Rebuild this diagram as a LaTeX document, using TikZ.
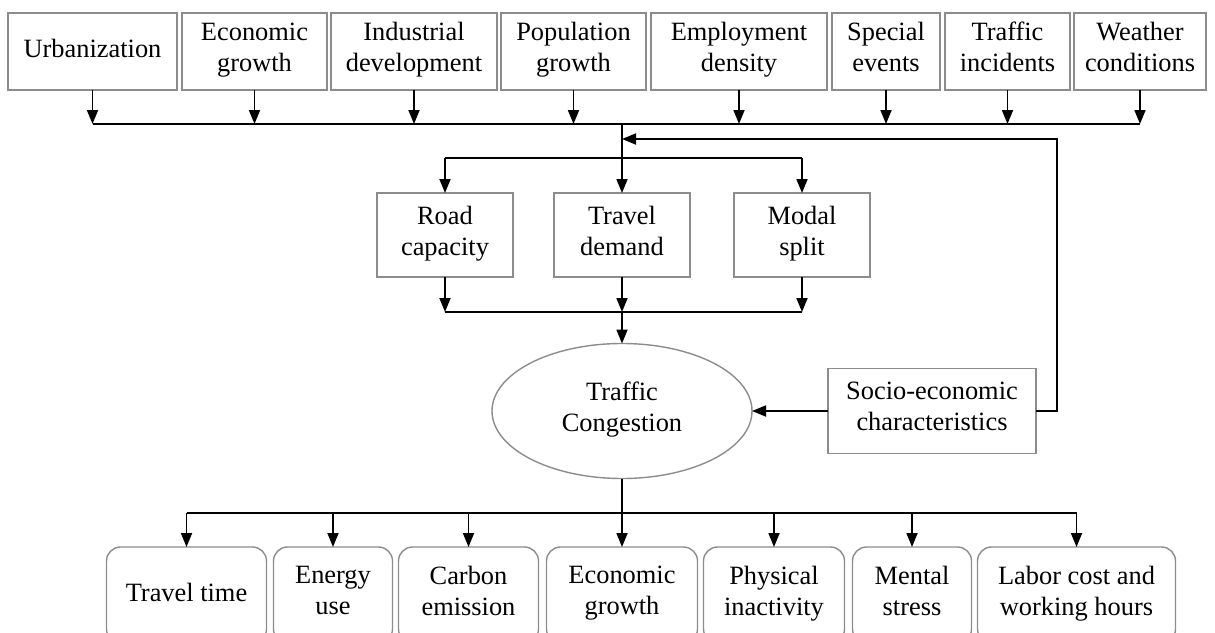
\documentclass[tikz,border=0pt]{standalone}
\usepackage{fontspec}
\setmainfont{Liberation Serif}
\usetikzlibrary{arrows.meta,positioning,shapes.geometric}
\definecolor{boxgray}{RGB}{140,140,140}

\begin{document}
\begin{tikzpicture}[
    x=0.5pt, y=-0.5pt,
    cause/.style={
      draw=boxgray,
      line width=0.7pt,
      minimum height=38.5pt,
      inner sep=0pt,
      outer sep=0pt,
      align=center,
      font=\fontsize{13.2}{15.5}\selectfont,
      execute at begin node=\strut,
      execute at end node=\strut
    },
    factor/.style={cause, minimum width=68pt, minimum height=42pt},
    effect/.style={cause, rounded corners=7pt, minimum height=48pt},
    hub/.style={cause, ellipse, minimum width=130pt, minimum height=67.5pt},
    arrow/.style={-{Triangle[length=7pt,width=5.5pt]}, line width=0.9pt},
    link/.style={line width=0.9pt}
  ]
    \clip (0,0) rectangle (1215,632);

    \node[cause, minimum width=84.5pt] (urban) at (92.5,51.5) {Urbanization};
    \node[cause, minimum width=72.5pt, right=2.5pt of urban] (econ) {Economic\\growth};
    \node[cause, minimum width=83pt, right=2pt of econ] (indus) {Industrial\\development};
    \node[cause, minimum width=72.5pt, right=2pt of indus] (pop) {Population\\growth};
    \node[cause, minimum width=88pt, right=2.5pt of pop] (employ) {Employment\\density};
    \node[cause, minimum width=54pt, right=2.5pt of employ] (events) {Special\\events};
    \node[cause, minimum width=62.5pt, right=2.5pt of events] (incid) {Traffic\\incidents};
    \node[cause, minimum width=66pt, right=2pt of incid] (weather) {Weather\\conditions};

    \node[factor] (demand) at (622,235) {Travel\\demand};
    \node[factor, left=20.5pt of demand] (road) {Road\\capacity};
    \node[factor, right=22pt of demand] (modal) {Modal\\split};

    \node[hub] (jam) at (622,411) {Traffic\\Congestion};
    \node[cause, minimum width=104pt, minimum height=42.5pt, right=38pt of jam] (socio) {Socio-economic\\characteristics};

    \node[effect, minimum width=75.5pt] (ecogr) at (622,595) {Economic\\growth};
    \node[effect, minimum width=70pt, left=4pt of ecogr] (carbon) {Carbon\\emission};
    \node[effect, minimum width=59.5pt, left=3pt of carbon] (energy) {Energy\\use};
    \node[effect, minimum width=80pt, left=3.5pt of energy] (ttime) {Travel time};
    \node[effect, minimum width=70.5pt, right=3pt of ecogr] (physical) {Physical\\inactivity};
    \node[effect, minimum width=59.5pt, right=4pt of physical] (mental) {Mental\\stress};
    \node[effect, minimum width=99pt, right=3pt of mental] (labor) {Labor cost and\\working hours};

    \coordinate (inbus) at (0,124);
    \coordinate (split) at (0,158);
    \coordinate (merge) at (0,312);
    \coordinate (loop) at (1057,139);
    \coordinate (outbus) at (0,513);

    \foreach \n in {urban,econ,indus,pop,employ,events,incid,weather}
      \draw[arrow] (\n.south) -- (\n.south |- inbus);
    \draw[link] (urban.south |- inbus) -- (weather.south |- inbus);
    \draw[arrow] (demand.north |- inbus) -- (demand.north);
    \draw[link] (road.north |- split) -- (modal.north |- split);
    \foreach \n in {road,modal}
      \draw[arrow] (\n.north |- split) -- (\n.north);

    \foreach \n in {road,demand,modal}
      \draw[arrow] (\n.south) -- (\n.south |- merge);
    \draw[link] (road.south |- merge) -- (modal.south |- merge);
    \draw[arrow] (demand.south |- merge) -- (jam.north);

    \draw[arrow] (socio.west) -- (jam.east);
    \draw[arrow] (socio.east) -| (loop) -- (demand.north |- loop);

    \draw[arrow] (jam.south) -- (ecogr.north);
    \draw[link] (ttime.north |- outbus) -- (labor.north |- outbus);
    \foreach \n in {ttime,energy,carbon,physical,mental,labor}
      \draw[arrow] (\n.north |- outbus) -- (\n.north);
  \end{tikzpicture}
\end{document}
